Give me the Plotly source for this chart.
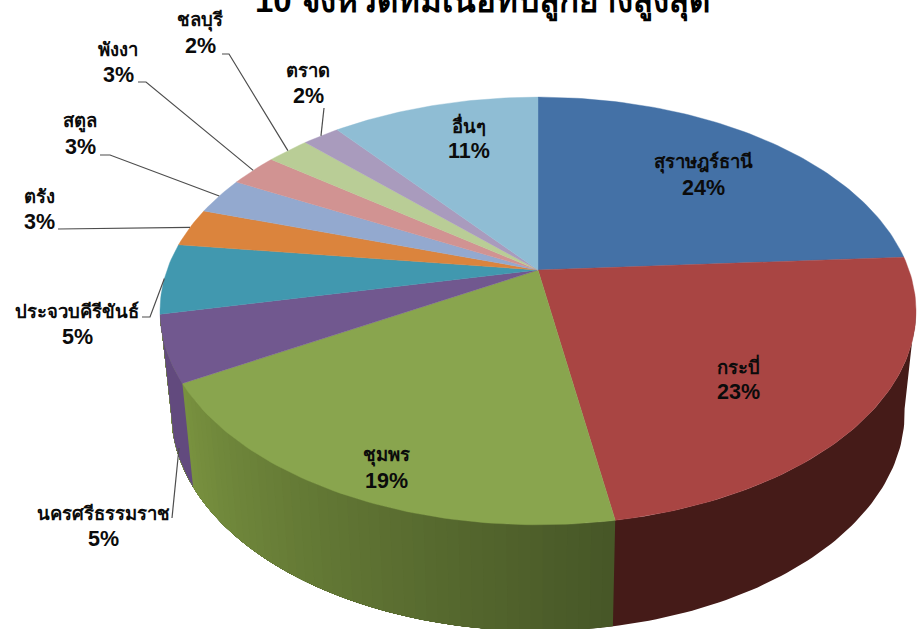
import numpy as np
import plotly.graph_objects as go

provinces = ["สุราษฎร์ธานี", "กระบี่", "ชุมพร", "นครศรีธรรมราช", "ประจวบคีรีขันธ์", "ตรัง", "สตูล", "พังงา", "ชลบุรี", "ตราด", "อื่นๆ"]
shares = [24.0, 23.3, 19.4, 5.0, 5.3, 2.9, 2.8, 2.5, 2.2, 1.9, 10.7]
share_labels = ["24%", "23%", "19%", "5%", "5%", "3%", "3%", "3%", "2%", "2%", "11%"]
title_text = "10 จังหวัดที่มีเนื้อที่ปลูกยางสูงสุด"

top_colors = ["#4471A6", "#A94543", "#89A54E", "#71588F", "#4198AF", "#DB843D", "#93A9CF", "#D19392", "#B9CD96", "#A99BBD", "#8FBDD4"]
wall_near = ["#2F4E73", "#451B18", "#78913F", "#624A7E", "#33788A", "#A9652F", "#7285A3", "#A37270", "#90A075", "#837892", "#6F93A5"]
wall_far = ["#2F4E73", "#451B18", "#475727", "#624A7E", "#33788A", "#A9652F", "#7285A3", "#A37270", "#90A075", "#837892", "#6F93A5"]

# projection of the pie disc (pixel space of the page)
CX, CY, A, B, P = 538.0, 270.0, 371.0, 206.0, 0.1916
BASE_Y, BASE_SX, BASE_SY = 371.0, 0.97, 1.02


def rim(theta):
    X, Y = np.sin(theta), np.cos(theta)
    d = 1 + P * Y
    return A * X / d, -B * Y / d


def top_pt(theta):
    dx, dy = rim(theta)
    return CX + dx, CY + dy


def bottom_pt(theta):
    dx, dy = rim(theta)
    return CX + BASE_SX * dx, BASE_Y + BASE_SY * dy


def mix(c1, c2, t):
    a = [int(c1[i:i + 2], 16) for i in (1, 3, 5)]
    b = [int(c2[i:i + 2], 16) for i in (1, 3, 5)]
    return "#%02x%02x%02x" % tuple(round(u + (v - u) * t) for u, v in zip(a, b))


edges = np.cumsum([0.0] + shares) / sum(shares) * 2 * np.pi
fig = go.Figure()


def poly(xs, ys, color, width=0.0):
    fig.add_trace(go.Scatter(x=xs, y=ys, mode="lines", fill="toself", fillcolor=color,
                             line=dict(color=color, width=width), hoverinfo="skip", showlegend=False))


# side wall: painted from the right-hand extreme round the front to the left,
# each band running on to the end so later bands overlap it and leave no seams
VIS_A, VIS_B = np.radians(100), edges[4]
bands = []
for i in range(len(shares)):
    lo, hi = max(edges[i], VIS_A), min(edges[i + 1], VIS_B)
    if hi <= lo:
        continue
    if wall_far[i] == wall_near[i]:
        bands.append((lo, wall_far[i]))
    else:
        n = max(2, int(np.degrees(hi - lo) / 1.5))
        for j, c in enumerate(np.linspace(lo, hi, n, endpoint=False)):
            bands.append((c, mix(wall_far[i], wall_near[i], j / max(1, n - 1))))
for start, col in bands:
    th = np.linspace(start, VIS_B, max(4, int(np.degrees(VIS_B - start))))
    tx, ty = top_pt(th)
    bx, by = bottom_pt(th[::-1])
    poly(np.r_[tx, bx], np.r_[ty, by], col)

# top face
for i in range(len(shares)):
    th = np.linspace(edges[i], edges[i + 1], max(8, int(np.degrees(edges[i + 1] - edges[i]))))
    x, y = top_pt(th)
    poly(np.r_[CX, x, CX], np.r_[CY, y, CY], top_colors[i], 0.4)

# leader lines: label side point, elbow, end on the slice rim
mid = (edges[:-1] + edges[1:]) / 2
leaders = {
    3: [(172, 518), (179, 448)],
    4: [(142, 317), (150, 317)],
    5: [(58, 229)],
    6: [(100, 155), (110, 155)],
    7: [(138, 82), (146, 82)],
    8: [(222, 54), (229, 54)],
    9: [(324, 108)],
}
for i, pts in leaders.items():
    xs = [p[0] for p in pts]
    ys = [p[1] for p in pts]
    if i != 3:
        ex, ey = top_pt(mid[i])
        xs.append(float(ex))
        ys.append(float(ey))
    fig.add_trace(go.Scatter(x=xs, y=ys, mode="lines", line=dict(color="#4d4d4d", width=1.2),
                             hoverinfo="skip", showlegend=False))

label_pos = [(703, 175), (738, 379), (386, 468), (103, 526), (77, 324), (39, 209), (80, 134), (118, 62), (200, 33), (308, 83), (469, 138)]
FONT = "Tahoma, 'Liberation Sans', 'Noto Sans', sans-serif"
for name, lab, (lx, ly) in zip(provinces, share_labels, label_pos):
    fig.add_annotation(x=lx, y=ly - 13, text=f"<b>{name}</b>", showarrow=False, xanchor="center", yanchor="middle",
                       font=dict(family=FONT, size=18.5, color="#0b0b0b"))
    fig.add_annotation(x=lx, y=ly + 13, text=f"<b>{lab}</b>", showarrow=False, xanchor="center", yanchor="middle",
                       font=dict(family=FONT, size=21.5, color="#0b0b0b"))

fig.add_annotation(x=482, y=24, text=f"<b>{title_text}</b>", showarrow=False, xanchor="center", yanchor="bottom",
                   font=dict(family=FONT, size=33, color="#000000"))

fig.update_xaxes(range=[0, 923], visible=False, fixedrange=True)
fig.update_yaxes(range=[629, 0], visible=False, fixedrange=True)
fig.update_layout(width=923, height=629, margin=dict(l=0, r=0, t=0, b=0), plot_bgcolor="white", paper_bgcolor="white",
                  showlegend=False)
fig.write_html("out.html", config={"displayModeBar": False},
               post_script="document.body.style.margin='0';document.documentElement.style.overflow='hidden';")
